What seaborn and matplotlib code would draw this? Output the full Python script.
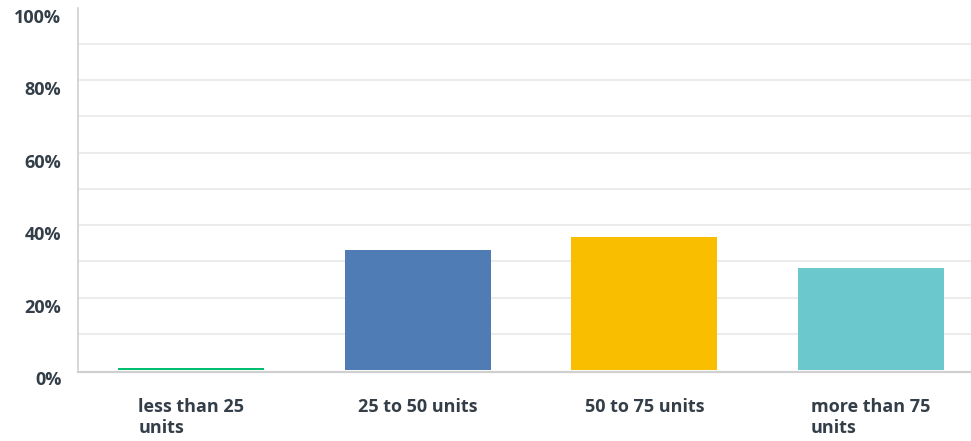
import pandas as pd
import seaborn as sns
import matplotlib.pyplot as plt
import matplotlib.transforms as mtransforms

# answer options and share of responses (%)
categories = ['less than 25\nunits', '25 to 50 units', '50 to 75 units', 'more than 75\nunits']
percents = [0.6, 33.1, 36.7, 28.1]
bar_colors = ['#00bf6f', '#507cb6', '#f9be00', '#6bc8cd']
ytick_vals = [0, 20, 40, 60, 80, 100]
ytick_labels = ['0%', '20%', '40%', '60%', '80%', '100%']

df = pd.DataFrame({'answer': categories, 'pct': percents})

sns.set_style('white')
plt.rcParams['font.family'] = ['Open Sans', 'DejaVu Sans']
text_color = '#333e48'

fig = plt.figure(figsize=(9.71, 4.41), dpi=100)
ax = fig.add_axes([78 / 971, 71 / 441, 906 / 971, 362.5 / 441])

sns.barplot(data=df, x='answer', y='pct', hue='answer', palette=bar_colors,
            width=0.645, legend=False, saturation=1, linewidth=0, ax=ax)
for bar in ax.patches:
    bar.set_zorder(3)

# spines first: moving a spine resets the tick labels
for side in ['top', 'right']:
    ax.spines[side].set_visible(False)
ax.spines['left'].set_color('#d0d0d0')
ax.spines['left'].set_linewidth(1.2)
ax.spines['bottom'].set_color('#d0d0d0')
ax.spines['bottom'].set_linewidth(1.6)
ax.spines['bottom'].set_position(('outward', 1.2))
ax.spines['bottom'].set_zorder(1)

ax.set_xlim(-0.5, 3.5)
ax.set_ylim(0, 100)
ax.set_yticks(ytick_vals)
ax.set_yticklabels(ytick_labels, fontsize=13, fontweight='bold', color=text_color)
ax.set_yticks(range(10, 100, 20), minor=True)
ax.tick_params(axis='y', which='both', length=0, pad=12)
shift = mtransforms.ScaledTranslation(0, -0.8 / 72, fig.dpi_scale_trans)
for lab in ax.get_yticklabels():
    lab.set_verticalalignment('top')
    lab.set_transform(lab.get_transform() + shift)

ax.grid(axis='y', which='both', color='#ececec', linewidth=1.5)
ax.yaxis.get_gridlines()[0].set_visible(False)
ax.yaxis.get_gridlines()[-1].set_visible(False)
ax.set_axisbelow(True)

ax.set_xticks(range(len(categories)))
ax.set_xticklabels(categories, fontsize=13, fontweight='bold', color=text_color,
                   ha='center', multialignment='left', va='top', linespacing=1.2)
ax.tick_params(axis='x', length=0, pad=19)
ax.set_xlabel('')
ax.set_ylabel('')

fig.savefig('out.png', dpi=100)
